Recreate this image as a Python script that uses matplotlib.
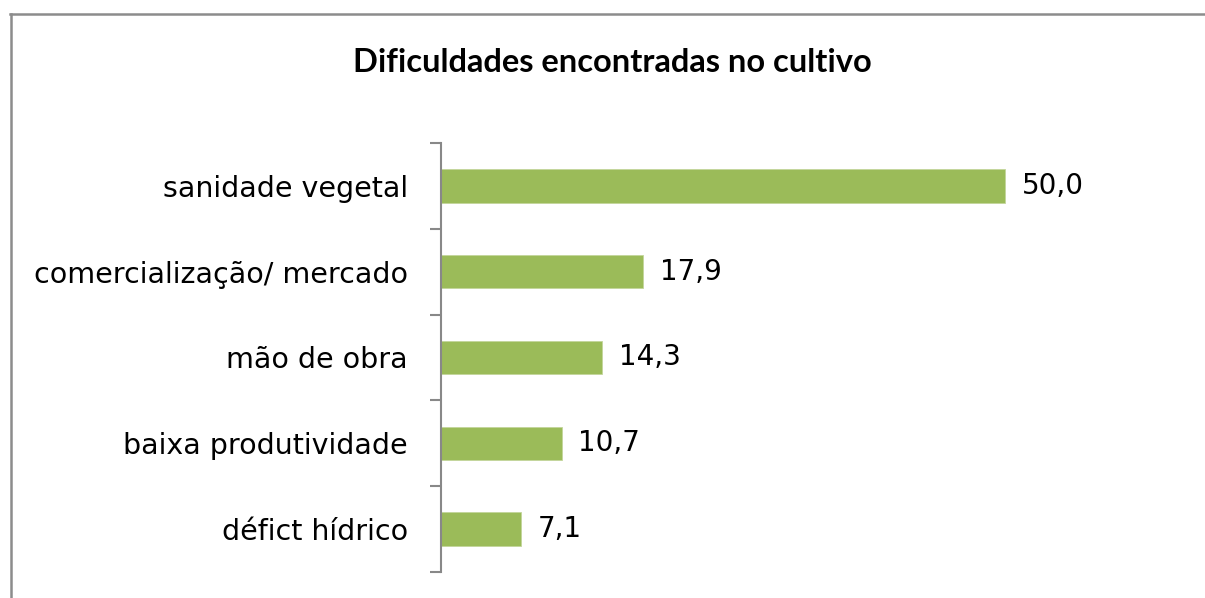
import matplotlib.pyplot as plt
from matplotlib.lines import Line2D
import numpy as np

categorias = ["sanidade vegetal", "comercialização/ mercado", "mão de obra",
              "baixa produtividade", "défict hídrico"]
valores = [50.0, 17.9, 14.3, 10.7, 7.1]
rotulos = ["50,0", "17,9", "14,3", "10,7", "7,1"]

fig = plt.figure(figsize=(12.05, 5.98), dpi=100)
ax = fig.add_axes([441 / 1205, 1 - 572 / 598, (1118 - 441) / 1205, (572 - 143) / 598])

# barras de cima para baixo
y = np.arange(len(categorias))[::-1]
ax.barh(y, valores, height=0.39, color="#9BBB59", edgecolor="#C3D69B", linewidth=0.6)

for yi, v, r in zip(y, valores, rotulos):
    ax.annotate(r, (v, yi), xytext=(12, 0), textcoords="offset points",
                ha="left", va="center", fontsize=20, color="#000000")

ax.set_xlim(0, 60)
ax.set_ylim(-0.5, len(categorias) - 0.5)
ax.set_yticks(y)
ax.set_yticklabels(categorias, fontsize=20.5)
ax.set_yticks(np.arange(-0.5, len(categorias), 1), minor=True)
ax.tick_params(axis="y", which="major", length=0, pad=24)
ax.tick_params(axis="y", which="minor", length=8, width=1.5, color="#888888")
ax.set_xticks([])

for s in ["top", "right", "bottom"]:
    ax.spines[s].set_visible(False)
ax.spines["left"].set_color("#888888")
ax.spines["left"].set_linewidth(1.5)

fig.text(612 / 1205, 1 - 62 / 598, "Dificuldades encontradas no cultivo",
         ha="center", va="center", fontsize=23.5, fontweight="bold", family="Lato")

# moldura do gráfico
fig.add_artist(Line2D([10.5 / 1205, 10.5 / 1205], [0, 1 - 14 / 598],
                      transform=fig.transFigure, color="#8C8C8C", linewidth=1.8))
fig.add_artist(Line2D([10 / 1205, 1], [1 - 14 / 598, 1 - 14 / 598],
                      transform=fig.transFigure, color="#8C8C8C", linewidth=1.8))

plt.savefig("out.png", dpi=100)
